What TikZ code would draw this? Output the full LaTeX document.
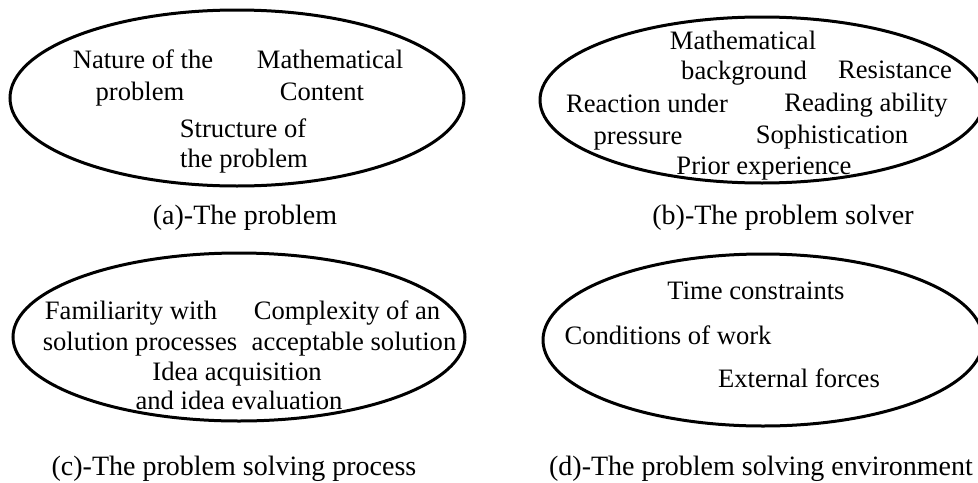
\documentclass[tikz,border=0pt]{standalone}
\usepackage{fontspec}
\setmainfont{Liberation Serif}
\usetikzlibrary{shapes.geometric}
\begin{document}
\begin{tikzpicture}[x=0.5pt,y=-0.5pt,
  ell/.style={draw, ellipse, line width=1.5pt, inner sep=0pt},
  item/.style={font=\fontsize{13.3}{15}\selectfont, inner sep=0pt, anchor=base},
  captext/.style={font=\fontsize{14}{16}\selectfont, inner sep=0pt, anchor=base}]
\useasboundingbox (0,0) rectangle (978,482);
\clip (0,0) rectangle (978,482);
% (a)
\node[ell, minimum width=227pt, minimum height=88pt] (ea) at (237,98) {};
\node[item] (a1) at (143,68) {Nature of the};
\node[item] (a2) at (140,100) {problem};
\node[item] (a3) at (330,68) {Mathematical};
\node[item] (a4) at (322,100) {Content};
\node[item] (a5) at (243,137) {Structure of};
\node[item] (a6) at (244,167) {the problem};
\node[captext] (ca) at (245,224) {(a)-The problem};
% (b)
\node[ell, minimum width=222pt, minimum height=83pt] (eb) at (762,100) {};
\node[item] (b1) at (743,49) {Mathematical};
\node[item] (b2) at (744,79) {background};
\node[item] (b3) at (895,78) {Resistance};
\node[item] (b4) at (647,112) {Reaction under};
\node[item] (b5) at (866,111) {Reading ability};
\node[item] (b6) at (638,144) {pressure};
\node[item] (b7) at (832,143) {Sophistication};
\node[item] (b8) at (764,174) {Prior experience};
\node[captext] (cb) at (783,224) {(b)-The problem solver};
% (c)
\node[ell, minimum width=226pt, minimum height=84pt] (ec) at (239,337) {};
\node[item] (c1) at (131,319) {Familiarity with};
\node[item] (c2) at (347,319) {Complexity of an};
\node[item] (c3) at (140,350) {solution processes};
\node[item] (c4) at (354,350) {acceptable solution};
\node[item] (c5) at (237,380) {Idea acquisition};
\node[item] (c6) at (239,409) {and idea evaluation};
\node[captext] (cc) at (234,475) {(c)-The problem solving process};
% (d)
\node[ell, minimum width=220pt, minimum height=86pt] (ed) at (763,340) {};
\node[item] (d1) at (756,299) {Time constraints};
\node[item] (d2) at (668,344) {Conditions of work};
\node[item] (d3) at (799,387) {External forces};
\node[captext] (cd) at (761,475) {(d)-The problem solving environment};
\end{tikzpicture}
\end{document}
